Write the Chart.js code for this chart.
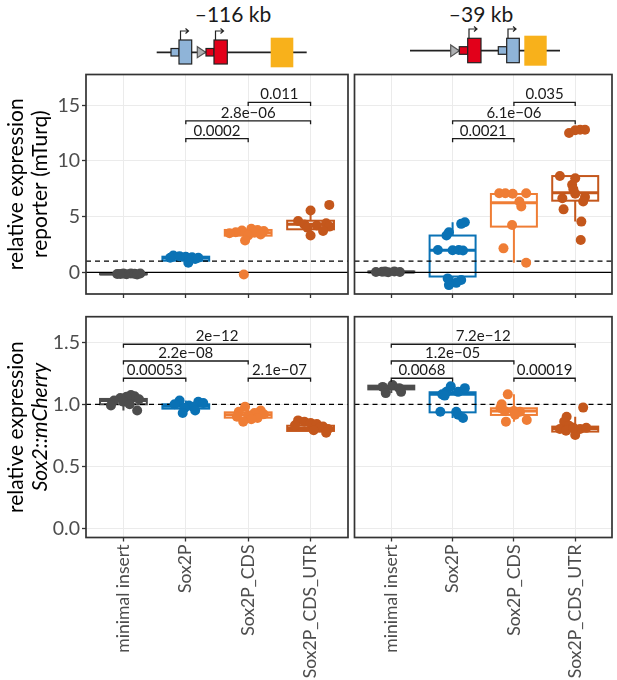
<!DOCTYPE html>
<html><head><meta charset="utf-8">
<script src="https://cdn.jsdelivr.net/npm/chart.js@4.4.1/dist/chart.umd.min.js"></script>
<style>
html,body{margin:0;padding:0;background:#fff;}
#wrap{position:relative;width:617px;height:680px;overflow:hidden;font-family:Lato,sans-serif;}
.cv{position:absolute;left:0;top:0;width:617px;height:680px;}
.hdr{position:absolute;top:1px;font-size:21px;color:#1a1a1a;transform:translateX(-50%);white-space:nowrap;}
svg{position:absolute;left:0;top:0;}
</style></head>
<body><div id="wrap">
<svg width="617" height="75" viewBox="0 0 617 75">
  <g stroke="#222" stroke-width="1.2">
    <line x1="156.7" y1="52.3" x2="306.7" y2="52.3" stroke-width="1.8"/>
    <rect x="171" y="48.5" width="8" height="7.5" fill="#8FB4D8"/>
    <rect x="179" y="40" width="12.7" height="24" fill="#8FB4D8"/>
    <polygon points="197.3,46.7 197.3,57.7 205.7,52.2" fill="#AEB0B2" stroke="#555"/>
    <rect x="206" y="48.5" width="8" height="7.5" fill="#E2001A"/>
    <rect x="214" y="40" width="13.3" height="24" fill="#E2001A"/>
    <rect x="270.7" y="37.7" width="22.6" height="29.6" fill="#F8B11B" stroke="none"/>
    <path d="M180.5,40 V31 H188 M185.5,28.5 L188.5,31 L185.5,33.5" fill="none"/>
    <path d="M215.5,40 V31 H223 M220.5,28.5 L223.5,31 L220.5,33.5" fill="none"/>

    <line x1="410" y1="50.7" x2="560" y2="50.7" stroke-width="1.8"/>
    <polygon points="450.7,45 450.7,56.7 459.3,50.8" fill="#AEB0B2" stroke="#555"/>
    <rect x="459.3" y="46.7" width="8.4" height="7.6" fill="#E2001A"/>
    <rect x="467.7" y="38.3" width="13.3" height="24.4" fill="#E2001A"/>
    <rect x="498.3" y="46.7" width="8.4" height="7.6" fill="#8FB4D8"/>
    <rect x="506.7" y="38.3" width="12.6" height="24.4" fill="#8FB4D8"/>
    <rect x="524.3" y="35.7" width="22.4" height="30" fill="#F8B11B" stroke="none"/>
    <path d="M469,38.3 V29 H476.5 M474,26.5 L477,29 L474,31.5" fill="none"/>
    <path d="M508,38.3 V29 H515.5 M513,26.5 L516,29 L513,31.5" fill="none"/>
  </g>
</svg>
<div class="hdr" style="left:233px">–116 kb</div>
<div class="hdr" style="left:481px">–39 kb</div>
<div class="cv"><canvas id="c1" width="617" height="680"></canvas></div>
<div class="cv"><canvas id="c2" width="617" height="680"></canvas></div>
<div class="cv"><canvas id="c3" width="617" height="680"></canvas></div>
<div class="cv"><canvas id="c4" width="617" height="680"></canvas></div>
</div>
<script>
// ---------------- DATA ----------------
const categories = ['minimal insert', 'Sox2P', 'Sox2P_CDS', 'Sox2P_CDS_UTR'];
const reporterTicks = [0, 5, 10, 15];
const reporterTickLabels = ['0', '5', '10', '15'];
const mcherryTicks = [0, 0.5, 1.0, 1.5];
const mcherryTickLabels = ['0.0', '0.5', '1.0', '1.5'];

// -116 kb, reporter (mTurq): points per category and their horizontal jitter
const rep116Values = [
  [-0.15, -0.12, -0.18, -0.1, -0.14, -0.2, -0.11, -0.16],
  [1.5, 1.45, 1.4, 1.35, 1.3, 1.3, 1.2, 1.1, 0.85],
  [3.9, 3.8, 3.75, 3.7, 3.6, 3.55, 3.5, 3.4, 3.3, 2.85, -0.2],
  [6.05, 5.55, 4.6, 4.4, 4.3, 4.2, 4.1, 4.0, 3.7, 3.3]
];
const rep116Jitter = [
  [-0.1, 0.0, 0.05, 0.12, 0.18, 0.22, 0.27, -0.05],
  [-0.2, -0.1, 0.0, 0.1, 0.2, -0.25, 0.15, 0.05, 0.04],
  [0.05, 0.15, -0.1, 0.25, -0.2, 0.1, -0.3, 0.2, 0.0, -0.05, -0.07],
  [0.3, 0.0, -0.2, 0.25, -0.1, 0.1, 0.3, -0.05, 0.2, 0.0]
];
const rep116Q1 = [-0.18, 1.04, 3.29, 3.86];
const rep116Med = [-0.15, 1.28, 3.55, 4.31];
const rep116Q3 = [-0.11, 1.4, 3.8, 4.63];
const rep116Lo = [-0.2, 0.85, 2.85, 3.3];
const rep116Hi = [-0.1, 1.5, 3.9, 5.55];
const rep116Pairs = [[2, 3], [2, 4], [3, 4]];
const rep116BracketY = [12.0, 13.6, 15.25];
const rep116PLabels = ['0.0002', '2.8e\u221206', '0.011'];

// -39 kb, reporter (mTurq)
const rep39Values = [
  [0.02, 0.05, 0.0, 0.08, 0.03, 0.06],
  [4.5, 4.35, 3.6, 3.3, 2.0, 1.98, 2.0, 1.95, -0.55, -0.7, -0.95, -1.15],
  [7.1, 7.1, 7.05, 7.1, 6.35, 5.9, 4.25, 2.15, 0.86],
  [12.5, 12.75, 12.8, 12.8, 8.65, 8.45, 7.85, 7.45, 7.05, 6.65, 6.75, 6.35, 5.65, 4.55, 2.9]
];
const rep39Jitter = [
  [-0.25, -0.15, -0.05, 0.05, 0.14, -0.1],
  [0.2, 0.14, -0.06, -0.1, -0.24, 0.0, 0.1, 0.17, -0.08, 0.14, 0.06, -0.06],
  [-0.24, -0.14, -0.02, 0.2, 0.09, 0.12, -0.03, -0.17, 0.2],
  [-0.1, 0.0, 0.08, 0.16, -0.25, 0.0, -0.05, -0.03, 0.0, -0.21, 0.16, 0.13, -0.19, 0.1, 0.09]
];
const rep39Q1 = [0.0, -0.38, 4.1, 6.43];
const rep39Med = [0.03, 1.98, 6.25, 7.15];
const rep39Q3 = [0.07, 3.3, 7.03, 8.64];
const rep39Lo = [0.0, -1.15, 0.86, 4.55];
const rep39Hi = [0.08, 4.5, 7.1, 8.65];
const rep39Pairs = [[2, 3], [2, 4], [3, 4]];
const rep39BracketY = [12.0, 13.6, 15.25];
const rep39PLabels = ['0.0021', '6.1e\u221206', '0.035'];

// -116 kb, Sox2::mCherry
const mch116Values = [
  [1.075, 1.065, 1.06, 1.05, 1.04, 1.03, 1.02, 1.0, 0.99, 0.95],
  [1.03, 1.02, 1.01, 1.0, 0.99, 0.98, 0.97, 0.95, 0.93],
  [0.98, 0.95, 0.94, 0.93, 0.92, 0.91, 0.9, 0.89, 0.88, 0.86],
  [0.87, 0.86, 0.85, 0.84, 0.83, 0.82, 0.81, 0.8, 0.79, 0.77]
];
const mch116Jitter = [
  [0.12, 0.18, 0.05, -0.05, 0.25, -0.15, 0.0, 0.1, -0.2, 0.22],
  [-0.1, 0.2, 0.28, -0.18, 0.05, 0.12, -0.02, 0.15, -0.05],
  [-0.05, 0.2, -0.15, 0.1, 0.25, 0.0, -0.18, 0.15, 0.05, -0.08],
  [-0.2, -0.1, 0.0, 0.1, -0.25, 0.2, 0.15, 0.28, 0.05, 0.25]
];
const mch116Q1 = [1.0, 0.965, 0.892, 0.785];
const mch116Med = [1.03, 0.985, 0.915, 0.805];
const mch116Q3 = [1.043, 1.0, 0.935, 0.827];
const mch116Lo = [0.95, 0.93, 0.86, 0.77];
const mch116Hi = [1.075, 1.03, 0.98, 0.87];
const mch116Pairs = [[1, 2], [3, 4], [1, 3], [1, 4]];
const mch116BracketY = [1.21, 1.21, 1.349, 1.484];
const mch116PLabels = ['0.00053', '2.1e\u221207', '2.2e\u221208', '2e\u221212'];

// -39 kb, Sox2::mCherry
const mch39Values = [
  [1.14, 1.09, 1.155, 1.13, 1.1],
  [1.08, 1.1, 1.145, 1.1, 1.13, 1.07, 0.94, 0.94, 0.915, 0.89],
  [1.08, 1.0, 0.97, 0.945, 0.945, 0.94, 0.915, 0.873, 0.86],
  [0.973, 0.9, 0.86, 0.827, 0.8, 0.787, 0.752, 0.8, 0.81, 0.81]
];
const mch39Jitter = [
  [-0.14, -0.09, 0.02, 0.13, 0.16],
  [-0.17, -0.1, -0.03, 0.09, 0.2, -0.13, -0.2, 0.06, 0.09, 0.17],
  [-0.1, -0.2, -0.22, -0.15, 0.0, 0.1, 0.02, 0.21, -0.13],
  [0.13, -0.14, -0.18, -0.1, -0.25, -0.15, 0.0, 0.08, 0.18, -0.03]
];
const mch39Q1 = [1.12, 0.935, 0.914, 0.78];
const mch39Med = [1.135, 1.08, 0.946, 0.805];
const mch39Q3 = [1.15, 1.097, 0.968, 0.82];
const mch39Lo = [1.09, 0.89, 0.86, 0.752];
const mch39Hi = [1.155, 1.145, 1.08, 0.9];
const mch39Pairs = [[1, 2], [3, 4], [1, 3], [1, 4]];
const mch39BracketY = [1.21, 1.21, 1.349, 1.484];
const mch39PLabels = ['0.0068', '0.00019', '1.2e\u221205', '7.2e\u221212'];

// ---------------- STYLE ----------------
const COLORS = ['#4D4D4D', '#0A72B5', '#EF7D35', '#C4571C'];
const FONT = 'Lato';
Chart.defaults.font.family = FONT;
const PANEL_L = {left: 86, right: 348};
const PANEL_R = {left: 354.5, right: 615};
const ROW_T = {top: 74.5, bottom: 294};
const ROW_B = {top: 316.7, bottom: 537.5};
const Y_TICK_SIZE = 19.5;
const X_TICK_SIZE = 17.6;

function datasets(values, jitter) {
  return values.map((vals, i) => ({
    data: vals.map((v, k) => ({x: i + 1 + jitter[i][k], y: v})),
    backgroundColor: COLORS[i], borderWidth: 0, pointRadius: 5, pointHoverRadius: 5
  }));
}

function panelPlugin(p, key) {
  return {
    id: 'panel_' + key,
    beforeDatasetsDraw(chart) {
      const {ctx, chartArea: a, scales: {x, y}} = chart;
      ctx.save();
      ctx.beginPath(); ctx.rect(a.left, a.top, a.right - a.left, a.bottom - a.top); ctx.clip();
      p.q1.forEach((q1, i) => {
        const cx = x.getPixelForValue(i + 1);
        const xl = x.getPixelForValue(i + 1 - 0.375), xr = x.getPixelForValue(i + 1 + 0.375);
        const y1 = y.getPixelForValue(q1), y3 = y.getPixelForValue(p.q3[i]);
        const ym = y.getPixelForValue(p.med[i]);
        const ylo = y.getPixelForValue(p.lo[i]), yhi = y.getPixelForValue(p.hi[i]);
        ctx.strokeStyle = COLORS[i]; ctx.lineWidth = 2;
        ctx.beginPath(); ctx.moveTo(cx, y3); ctx.lineTo(cx, yhi); ctx.moveTo(cx, y1); ctx.lineTo(cx, ylo); ctx.stroke();
        ctx.fillStyle = '#fff'; ctx.fillRect(xl, y3, xr - xl, y1 - y3);
        ctx.strokeRect(xl, y3, xr - xl, y1 - y3);
        ctx.lineWidth = 3; ctx.beginPath(); ctx.moveTo(xl, ym); ctx.lineTo(xr, ym); ctx.stroke();
      });
      ctx.strokeStyle = '#000'; ctx.lineWidth = 1.3;
      (p.solid || []).forEach(v => {
        const yy = y.getPixelForValue(v);
        ctx.setLineDash([]); ctx.beginPath(); ctx.moveTo(a.left, yy); ctx.lineTo(a.right, yy); ctx.stroke();
      });
      (p.dashed || []).forEach(v => {
        const yy = y.getPixelForValue(v);
        ctx.setLineDash([5, 4]); ctx.beginPath(); ctx.moveTo(a.left, yy); ctx.lineTo(a.right, yy); ctx.stroke();
      });
      ctx.restore();
    },
    afterDatasetsDraw(chart) {
      const {ctx, scales: {x, y}} = chart;
      ctx.save();
      ctx.strokeStyle = '#1a1a1a'; ctx.fillStyle = '#1a1a1a'; ctx.lineWidth = 1.3;
      ctx.font = '15px ' + FONT; ctx.textAlign = 'center'; ctx.textBaseline = 'alphabetic';
      p.pairs.forEach((pr, i) => {
        const x1 = x.getPixelForValue(pr[0]), x2 = x.getPixelForValue(pr[1]);
        const yy = y.getPixelForValue(p.by[i]);
        ctx.beginPath(); ctx.moveTo(x1, yy + 3.5); ctx.lineTo(x1, yy); ctx.lineTo(x2, yy); ctx.lineTo(x2, yy + 3.5); ctx.stroke();
        ctx.fillText(p.labels[i], (x1 + x2) / 2, yy - 3);
      });
      ctx.restore();
    },
    afterDraw(chart) {
      const {ctx, chartArea: a} = chart;
      ctx.save();
      ctx.strokeStyle = '#333'; ctx.lineWidth = 1.7;
      ctx.strokeRect(a.left, a.top, a.right - a.left, a.bottom - a.top);
      ctx.restore();
    }
  };
}

function titleAxis(text, weight, width, pad, italic) {
  return {
    type: 'linear', position: 'left', weight: weight, display: true,
    grid: {display: false}, border: {display: false}, ticks: {display: false},
    title: {display: true, text: text, color: '#000',
      font: {family: FONT, size: 21, style: italic ? 'italic' : 'normal', lineHeight: 1.1},
      padding: {top: pad, bottom: 0}},
    afterFit: s => { s.width = width; }
  };
}

function makeChart(id, o) {
  const isLeft = o.col === 0, isBottom = o.row === 1;
  const col = isLeft ? PANEL_L : PANEL_R;
  const row = isBottom ? ROW_B : ROW_T;
  const xAxisH = isBottom ? (680 - row.bottom) : 4;
  const scales = {
    x: {
      type: 'linear', min: 0.4, max: 4.6, weight: 1,
      afterBuildTicks: s => { s.ticks = categories.map((c, i) => ({value: i + 1})); },
      ticks: {display: isBottom, autoSkip: false, minRotation: 90, maxRotation: 90,
        color: '#4d4d4d', font: {family: FONT, size: X_TICK_SIZE}, padding: 3,
        callback: (v, i) => categories[i]},
      grid: {color: '#ebebeb', lineWidth: 1, drawTicks: true, tickLength: 4, tickColor: '#333', tickWidth: 1.3},
      border: {display: false},
      afterFit: s => { s.height = xAxisH; }
    },
    y: {
      type: 'linear', min: o.ymin, max: o.ymax, weight: 1,
      afterBuildTicks: s => { s.ticks = o.ticks.map(v => ({value: v})); },
      ticks: {display: isLeft, color: '#4d4d4d', font: {family: FONT, size: Y_TICK_SIZE}, padding: 2,
        callback: (v, i) => o.tickLabels[i]},
      grid: {color: '#ebebeb', lineWidth: 1, drawTicks: isLeft, tickLength: 4, tickColor: '#333', tickWidth: 1.3},
      border: {display: false},
      afterFit: s => { s.width = isLeft ? 35 : 0; }
    }
  };
  if (isLeft) {
    scales.t1 = titleAxis(o.title1, 3, 28, 5.1, false);
    scales.t2 = titleAxis(o.title2, 2, 23, 0.5, o.italic2);
  }
  return new Chart(document.getElementById(id), {
    type: 'scatter',
    data: {datasets: datasets(o.values, o.jitter)},
    options: {
      responsive: false, animation: false, events: [],
      layout: {padding: {left: isLeft ? 0 : col.left, right: 617 - col.right, top: row.top, bottom: 680 - row.bottom - xAxisH}},
      plugins: {legend: {display: false}, tooltip: {enabled: false}},
      scales: scales
    },
    plugins: [panelPlugin(o.panel, id)]
  });
}

makeChart('c1', {col: 0, row: 0, ymin: -1.95, ymax: 17.76, ticks: reporterTicks, tickLabels: reporterTickLabels,
  title1: 'relative expression', title2: 'reporter (mTurq)', italic2: false,
  values: rep116Values, jitter: rep116Jitter,
  panel: {q1: rep116Q1, med: rep116Med, q3: rep116Q3, lo: rep116Lo, hi: rep116Hi, solid: [0], dashed: [1],
    pairs: rep116Pairs, by: rep116BracketY, labels: rep116PLabels}});
makeChart('c2', {col: 1, row: 0, ymin: -1.95, ymax: 17.76, ticks: reporterTicks, tickLabels: reporterTickLabels,
  values: rep39Values, jitter: rep39Jitter,
  panel: {q1: rep39Q1, med: rep39Med, q3: rep39Q3, lo: rep39Lo, hi: rep39Hi, solid: [0], dashed: [1],
    pairs: rep39Pairs, by: rep39BracketY, labels: rep39PLabels}});
makeChart('c3', {col: 0, row: 1, ymin: -0.074, ymax: 1.706, ticks: mcherryTicks, tickLabels: mcherryTickLabels,
  title1: 'relative expression', title2: 'Sox2::mCherry', italic2: true,
  values: mch116Values, jitter: mch116Jitter,
  panel: {q1: mch116Q1, med: mch116Med, q3: mch116Q3, lo: mch116Lo, hi: mch116Hi, dashed: [1],
    pairs: mch116Pairs, by: mch116BracketY, labels: mch116PLabels}});
makeChart('c4', {col: 1, row: 1, ymin: -0.074, ymax: 1.706, ticks: mcherryTicks, tickLabels: mcherryTickLabels,
  values: mch39Values, jitter: mch39Jitter,
  panel: {q1: mch39Q1, med: mch39Med, q3: mch39Q3, lo: mch39Lo, hi: mch39Hi, dashed: [1],
    pairs: mch39Pairs, by: mch39BracketY, labels: mch39PLabels}});
</script>
</body></html>
